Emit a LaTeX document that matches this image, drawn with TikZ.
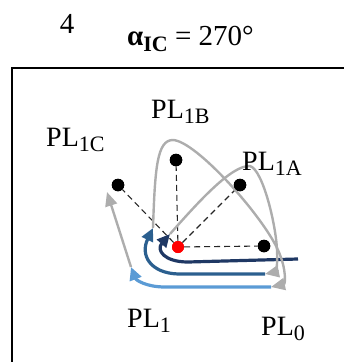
\documentclass[tikz,border=0pt]{standalone}
\usepackage{fontspec}
\setmainfont{Liberation Serif}
\usetikzlibrary{arrows.meta}

\definecolor{azulosc}{HTML}{1F3864}
\definecolor{azulmed}{HTML}{2B5F8F}
\definecolor{azulcla}{HTML}{5B9BD5}
\definecolor{grisfl}{HTML}{ADADAD}

% etiqueta PL con subíndice
\newcommand{\etqpl}[1]{PL\raisebox{-5.5pt}{\fontsize{22}{22}\selectfont #1}}

\begin{document}
\begin{tikzpicture}[x=1pt, y=-1pt, font=\fontsize{28}{30}\selectfont,
    punto/.style={circle, fill=black, inner sep=0pt, minimum size=12.5pt},
    lider/.style={circle, fill=red, inner sep=0pt, minimum size=12pt},
    radio/.style={dash pattern=on 6pt off 4pt, line width=1.1pt, black!85},
    tray/.style={line width=3.2pt, -{Triangle[length=13pt,width=12pt]}},
    vuelta/.style={line width=2.4pt, grisfl, -{Triangle[length=14pt,width=12pt]}},
    etiqueta/.style={anchor=base west, inner sep=0pt}]

\useasboundingbox (0,0) rectangle (344,362);

% ── Encabezado ────────────────────────────────────────────────
\node[anchor=base, inner sep=0pt, font=\fontsize{29}{30}\selectfont] (num) at (67,33) {4};
\node[etiqueta, font=\fontsize{29}{30}\selectfont] (angulo) at (127,45)
    {{\bfseries α\raisebox{-6pt}{\fontsize{22}{22}\selectfont IC}} = 270°};

% Marco (solo lados izquierdo y superior visibles)
\draw[line width=2pt] (12,372) -- (12,68) -- (354,68);

% ── Posiciones ────────────────────────────────────────────────
\node[lider] (pl1) at (178,247) {};
\node[punto] (pc) at (118,185) {};
\node[punto] (pb) at (176,160) {};
\node[punto] (pa) at (240,185) {};
\node[punto] (p0) at (264,246) {};

% Extremos de las trayectorias
\coordinate (n0) at (298,259);
\coordinate (n1) at (170,234);
\coordinate (m0) at (265,274);
\coordinate (m1) at (153,228);
\coordinate (l0) at (271,287);
\coordinate (l1) at (131,267);
\coordinate (c1) at (107,192);

% Radios punteados desde el líder
\foreach \p in {pc, pb, pa, p0}
    \draw[radio] (pl1) -- (\p);

% ── Trayectorias azules ───────────────────────────────────────
\draw[tray, azulosc] (n0) -- (188,262) .. controls (164,262) and (156,250) .. (n1);
\draw[tray, azulmed] (m0) -- (178,274) .. controls (150,273) and (140,255) .. (m1);
\draw[tray, azulcla] (l0) -- (165,287) .. controls (146,287) and (136,280) .. (l1);

% ── Trayectorias grises ───────────────────────────────────────
\draw[vuelta] (n1) .. controls (200,200) and (232,165) .. (250,166)
    .. controls (263,170) and (276,225) .. (277,250)
    .. controls (278,266) and (275,272) .. (m0);
\draw[vuelta] (m1) .. controls (155,168) and (157,140) .. (173,140)
    .. controls (196,141) and (262,215) .. (278,250)
    .. controls (287,270) and (285,284) .. (l0);
\draw[vuelta] (l1) -- (c1);

% puntos encima de las líneas
\node[lider] at (pl1) {};
\foreach \p in {pc, pb, pa, p0}
    \node[punto] at (\p) {};

% ── Etiquetas ─────────────────────────────────────────────────
\node[etiqueta] (tb) at (151,118) {\etqpl{1B}};
\node[etiqueta] (tc) at (46,146)  {\etqpl{1C}};
\node[etiqueta] (ta) at (242,170) {\etqpl{1A}};
\node[etiqueta] (t1) at (127,327) {\etqpl{1}};
\node[etiqueta] (t0) at (261,335) {\etqpl{0}};

\end{tikzpicture}
\end{document}
